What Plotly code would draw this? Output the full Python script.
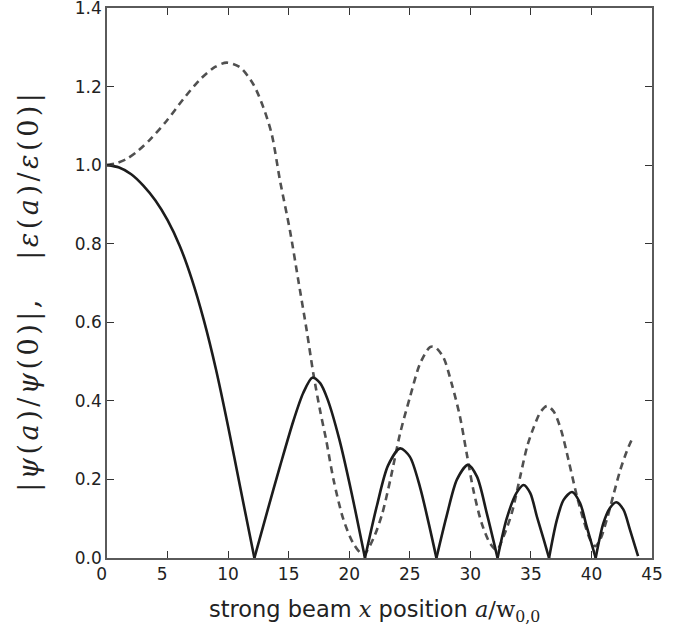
import plotly.graph_objects as go

# solid curve |psi(a)/psi(0)|  (zeros are cusps)
solid_x = [0, 1, 2, 3, 4, 5, 6, 7, 8, 9, 10, 11, 12, 12.17,
           13.2, 14.3, 15.4, 16.2, 16.95, 17.6, 18.2, 19.2, 20.2, 21.3,
           22.3, 23.2, 24.2, 25.0, 25.85, 26.55, 27.2,
           28.05, 28.9, 29.8, 30.55, 31.35, 32.25,
           33.0, 33.8, 34.4, 34.95, 35.5, 36.05, 36.5,
           37.13, 37.7, 38.4, 39.06, 39.61, 40.35,
           40.98, 41.54, 42.05, 42.64, 43.19, 43.85]
solid_y = [1.0, 0.994, 0.977, 0.948, 0.91, 0.86, 0.795, 0.71, 0.605, 0.48, 0.335, 0.18, 0.026, 0.0,
           0.115, 0.235, 0.35, 0.42, 0.459, 0.445, 0.405, 0.30, 0.165, 0.0,
           0.135, 0.235, 0.279, 0.258, 0.18, 0.09, 0.0,
           0.108, 0.20, 0.237, 0.207, 0.115, 0.0,
           0.10, 0.165, 0.186, 0.165, 0.105, 0.048, 0.0,
           0.095, 0.148, 0.168, 0.14, 0.08, 0.0,
           0.088, 0.128, 0.142, 0.123, 0.071, 0.005]

# dashed curve |eps(a)/eps(0)|
dash_x = [0, 0.8, 1.63, 2.5, 3.55, 4.93, 6.3, 7.68, 8.92, 9.88, 10.98, 12.08, 12.91,
          13.6, 14.29, 15.11, 15.8, 16.49, 17.04, 17.59, 18.1, 18.7, 19.5, 20.34,
          21.17, 22.0, 22.7, 23.4, 24.2, 25.02, 25.85, 26.67, 27.08, 27.77, 28.46,
          29.15, 29.7, 30.25, 30.94, 31.63, 32.18, 32.73, 33.42, 34.1, 34.7, 35.2,
          35.8, 36.35, 36.9, 37.5, 38.1, 38.78, 39.33, 39.88, 40.3, 40.7, 41.26,
          41.81, 42.36, 42.92, 43.46]
dash_y = [1.0, 1.005, 1.016, 1.035, 1.065, 1.113, 1.168, 1.218, 1.25, 1.261, 1.249, 1.206, 1.147,
          1.079, 0.96, 0.833, 0.706, 0.579, 0.469, 0.376, 0.30, 0.2, 0.1, 0.037,
          0.008, 0.05, 0.11, 0.2, 0.317, 0.41, 0.495, 0.537, 0.537, 0.511, 0.444,
          0.359, 0.266, 0.173, 0.088, 0.037, 0.02, 0.054, 0.114, 0.205, 0.285, 0.33,
          0.372, 0.387, 0.372, 0.325, 0.25, 0.16, 0.098, 0.048, 0.03, 0.045, 0.097,
          0.16, 0.222, 0.272, 0.31]

x_ticks = [0, 5, 10, 15, 20, 25, 30, 35, 40, 45]
x_tick_labels = ["0\u2007", "5\u2007", "10", "15", "20", "25", "30", "35", "40", "45"]
y_ticks = [0.0, 0.2, 0.4, 0.6, 0.8, 1.0, 1.2, 1.4]
y_tick_labels = ["0.0", "0.2", "0.4", "0.6", "0.8", "1.0", "1.2", "1.4"]

# split solid at interior cusps so each lobe is a separate smooth piece
sx, sy = [], []
for i, (xv, yv) in enumerate(zip(solid_x, solid_y)):
    sx.append(xv); sy.append(yv)
    if yv == 0.0 and 0 < i < len(solid_x) - 1:
        sx += [None, xv]; sy += [None, yv]

SERIF = "font-family:'DejaVu Serif','Liberation Serif',serif"
SERIF_SP = SERIF + ";letter-spacing:3.5px"

fig = go.Figure()
fig.add_trace(go.Scatter(x=dash_x, y=dash_y, mode="lines",
                         line=dict(color="#505050", width=2.6, dash="7px,5px", shape="spline", smoothing=0.8),
                         showlegend=False, hoverinfo="skip"))
fig.add_trace(go.Scatter(x=sx, y=sy, mode="lines", connectgaps=False,
                         line=dict(color="#1c1c1c", width=2.6, shape="spline", smoothing=0.8),
                         showlegend=False, hoverinfo="skip"))

axis_common = dict(showgrid=False, zeroline=False, showline=True, linecolor="#5a5a5a",
                   linewidth=1.5, mirror="ticks", ticks="inside", ticklen=7, tickwidth=1.2,
                   tickcolor="#333333", tickfont=dict(size=17, color="#222222"),
                   ticklabeloverflow="allow", automargin=False)

fig.update_xaxes(range=[0, 45], tickvals=x_ticks, ticktext=x_tick_labels,
                 ticklabelstandoff=0, **axis_common)
fig.update_yaxes(range=[0, 1.4], tickvals=y_ticks, ticktext=y_tick_labels,
                 ticklabelstandoff=0, **axis_common)

fig.add_annotation(xref="paper", yref="paper", x=0.4917, y=-0.0962,
                   xanchor="center", yanchor="middle", showarrow=False,
                   text=f"strong beam <span style=\"{SERIF}\"><i>x</i></span> position "
                        f"<span style=\"{SERIF}\"><i>a</i>/w<sub>0,0</sub></span>",
                   font=dict(size=22.5, color="#222222"))
fig.add_annotation(xref="paper", yref="paper", x=-0.143, y=0.486,
                   xanchor="center", yanchor="middle", showarrow=False, textangle=-90,
                   text=f"<span style=\"{SERIF_SP}\">|<i>ψ</i>(<i>a</i>)/<i>ψ</i>(0)|,&nbsp;&nbsp;&nbsp;"
                        f"|<i>ε</i>(<i>a</i>)/<i>ε</i>(0)|</span>",
                   font=dict(size=27, color="#222222"))

fig.update_layout(width=690, height=627, margin=dict(l=107, r=38, t=8, b=69, autoexpand=False),
                  paper_bgcolor="white", plot_bgcolor="white",
                  font=dict(family="'DejaVu Sans', sans-serif"))

# remove the page's default 8px body margin so the figure fills the window exactly
fig.write_html("out.html", config={"displayModeBar": False},
               post_script="document.body.style.margin='0px';")
